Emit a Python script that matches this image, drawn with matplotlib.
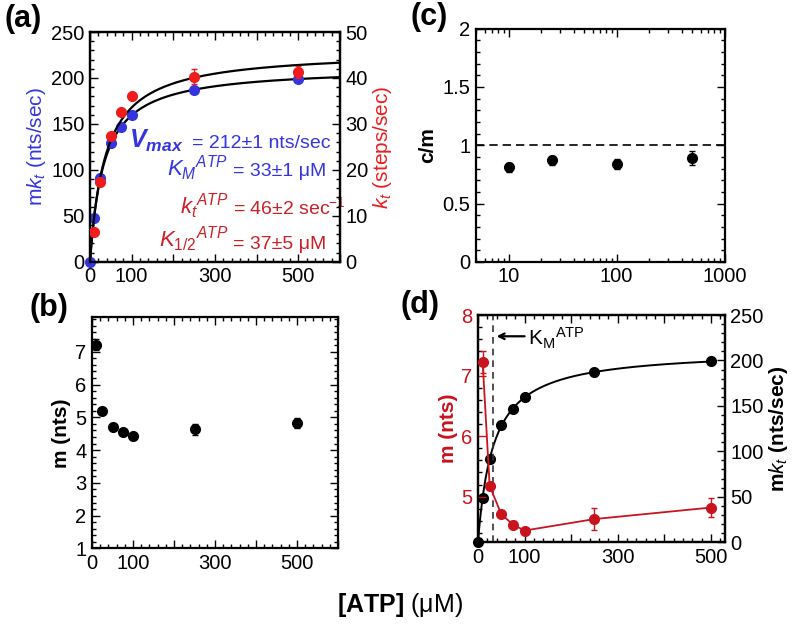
import numpy as np
import matplotlib.pyplot as plt
from matplotlib.ticker import MultipleLocator

plt.rcParams['font.family'] = ['Liberation Sans', 'DejaVu Sans']
plt.rcParams['mathtext.fontset'] = 'custom'
plt.rcParams['mathtext.rm'] = 'Liberation Sans'
plt.rcParams['mathtext.it'] = 'Liberation Sans:italic'
plt.rcParams['mathtext.bf'] = 'Liberation Sans:bold'
plt.rcParams['mathtext.sf'] = 'Liberation Sans:bold:italic'

# data
atp = [0, 10, 25, 50, 75, 100, 250, 500]
mkt = [0, 48, 91, 129, 147, 160, 187, 199]
atp_kt = [10, 25, 50, 75, 100, 250, 500]
kt = [6.5, 17.4, 27.4, 32.5, 36.0, 40.3, 41.3]
kt_err = [0, 0, 0, 0, 0, 1.6, 1.2]
atp_m = [10, 25, 50, 75, 100, 250, 500]
m = [7.22, 5.18, 4.71, 4.54, 4.44, 4.63, 4.82]
m_err = [0.18, 0.05, 0.05, 0.05, 0.05, 0.18, 0.15]
atp_c = [10, 25, 100, 500]
cm = [0.81, 0.87, 0.84, 0.89]
cm_err = [0.04, 0.04, 0.04, 0.06]

# fit parameters shown in panel (a)
vmax, km = 212, 33
ktmax, khalf = 46, 37

BLUE = '#3535e0'
RED = '#ee1c1c'
DRED = '#c8141e'
TRED = '#cc1f26'
TS = 14.5

fig = plt.figure(figsize=(8, 6.34), dpi=100)


def style(ax, right=True, top=True):
    for s in ax.spines.values():
        s.set_linewidth(1.6)
    ax.tick_params(which='both', direction='in', top=top, right=right,
                   labelsize=TS, width=1)
    ax.tick_params(which='major', length=6, pad=4)
    ax.tick_params(which='minor', length=3)


def xlin(ax, xmax):
    ax.set_xlim(0, xmax)
    ax.xaxis.set_minor_locator(MultipleLocator(20))
    ax.set_xticks(np.arange(0, xmax + 1, 100))
    ax.set_xticklabels(['0' if v == 0 else (str(int(v)) if v % 200 == 100 else '')
                        for v in np.arange(0, xmax + 1, 100)])


# ---------------- (a)
ax = fig.add_axes([0.1125, 0.587, 0.3125, 0.3625])
ax2 = ax.twinx()
xs = np.linspace(0, 600, 400)
ax.plot(xs, vmax * xs / (km + xs), color='black', lw=1.6, zorder=2)
ax2.plot(xs, ktmax * xs / (khalf + xs), color='black', lw=1.6, zorder=2)
ax.plot(atp, mkt, 'o', color=BLUE, ms=7, zorder=3, clip_on=False)
ax2.errorbar(atp_kt, kt, yerr=kt_err, fmt='o', color=RED, ms=7, capsize=2,
             elinewidth=1, zorder=3)
ax.set_ylim(0, 250)
ax2.set_ylim(0, 50)
xlin(ax, 600)
ax.yaxis.set_major_locator(MultipleLocator(50))
ax.yaxis.set_minor_locator(MultipleLocator(10))
ax2.yaxis.set_major_locator(MultipleLocator(10))
ax2.yaxis.set_minor_locator(MultipleLocator(2))
style(ax, right=False)
style(ax2, right=True)
ax2.tick_params(which='both', left=False, top=False)
ax.set_ylabel(r'm$\mathit{k_t}$ (nts/sec)', color=BLUE, fontsize=15, labelpad=2)
ax2.set_ylabel(r'$\mathit{k_t}$ (steps/sec)', color=RED, fontsize=15, labelpad=2)

eqx = 0.572
ax.text(0.375, 0.496, r'$\mathsf{V_{max}}$', transform=ax.transAxes,
        color=BLUE, fontsize=18, va='baseline', ha='right')
ax.text(0.408, 0.496, '= 212±1 nts/sec', transform=ax.transAxes,
        color=BLUE, fontsize=14, va='baseline', ha='left')
ax.text(eqx - 0.02, 0.374, r'$\mathit{K_M}^{\mathit{ATP}}$', transform=ax.transAxes,
        color=BLUE, fontsize=16, va='baseline', ha='right')
ax.text(eqx, 0.374, '= 33±1 μM', transform=ax.transAxes,
        color=BLUE, fontsize=14, va='baseline', ha='left')
ax.text(eqx - 0.02, 0.209, r'$\mathit{k_t}^{\mathit{ATP}}$', transform=ax.transAxes,
        color=TRED, fontsize=16, va='baseline', ha='right')
ax.text(eqx, 0.209, r'= 46±2 sec$^{\mathregular{-1}}$', transform=ax.transAxes,
        color=TRED, fontsize=14, va='baseline', ha='left')
ax.text(eqx - 0.02, 0.064, r'$\mathit{K_{1/2}}^{\mathit{ATP}}$', transform=ax.transAxes,
        color=TRED, fontsize=16, va='baseline', ha='right')
ax.text(eqx, 0.057, '= 37±5 μM', transform=ax.transAxes,
        color=TRED, fontsize=14, va='baseline', ha='left')
fig.text(0.006, 0.958, '(a)', fontsize=22, fontweight='bold', va='baseline')

# ---------------- (c)
ax = fig.add_axes([0.595, 0.587, 0.311, 0.368])
ax.axhline(1, color='black', lw=1.2, ls=(0, (5, 3)))
ax.errorbar(atp_c, cm, yerr=cm_err, fmt='o', color='black', ms=7, capsize=2,
            elinewidth=1)
ax.set_xscale('log')
ax.set_xlim(5, 1000)
ax.set_ylim(0, 2)
ax.set_xticks([10, 100, 1000])
ax.set_xticklabels(['10', '100', '1000'])
ax.set_yticks([0, 0.5, 1, 1.5, 2])
ax.set_yticklabels(['0', '0.5', '1', '1.5', '2'])
ax.yaxis.set_minor_locator(MultipleLocator(0.1))
style(ax)
ax.set_ylabel('c/m', fontsize=15, fontweight='bold', labelpad=4)
fig.text(0.513, 0.96, '(c)', fontsize=22, fontweight='bold', va='baseline')

# ---------------- (b)
ax = fig.add_axes([0.115, 0.135, 0.3075, 0.3645])
ax.errorbar(atp_m, m, yerr=m_err, fmt='o', color='black', ms=7, capsize=2,
            elinewidth=1)
xlin(ax, 600)
ax.set_ylim(1, 8.05)
ax.set_yticks([1, 2, 3, 4, 5, 6, 7])
ax.yaxis.set_minor_locator(MultipleLocator(0.2))
style(ax)
ax.set_ylabel('m (nts)', fontsize=15, fontweight='bold', labelpad=3)
fig.text(0.037, 0.502, '(b)', fontsize=22, fontweight='bold', va='baseline')

# ---------------- (d)
ax = fig.add_axes([0.5975, 0.145, 0.3085, 0.358])
ax2 = ax.twinx()
xs = np.linspace(0, 500, 400)
ax2.plot(xs, vmax * xs / (km + xs), color='black', lw=1.4, zorder=2)
ax2.plot(atp, mkt, 'o', color='black', ms=7, zorder=3, clip_on=False)
ax.errorbar(atp_m, m, yerr=m_err, fmt='-o', color=DRED, ms=7, capsize=2,
            elinewidth=1, lw=1.3, zorder=4)
ax.set_zorder(ax2.get_zorder() + 1)
ax.patch.set_visible(False)
ax.axvline(km, color='#333333', lw=1.2, ls=(0, (4, 3)))
ax.set_xlim(0, 530)
ax.set_xticks([0, 100, 200, 300, 400, 500])
ax.set_xticklabels(['0', '100', '', '300', '', '500'])
ax.xaxis.set_minor_locator(MultipleLocator(20))
ax.set_ylim(4.25, 8)
ax.set_yticks([5, 6, 7, 8])
ax.yaxis.set_minor_locator(MultipleLocator(0.2))
ax2.set_ylim(0, 250)
ax2.yaxis.set_major_locator(MultipleLocator(50))
ax2.yaxis.set_minor_locator(MultipleLocator(10))
style(ax, right=False)
style(ax2)
ax2.tick_params(which='both', left=False, top=False)
ax.tick_params(axis='y', colors=DRED)
for s in ['left', 'right', 'top', 'bottom']:
    ax.spines[s].set_color('black')
ax.set_ylabel('m (nts)', color=DRED, fontsize=15, fontweight='bold', labelpad=2)
ax2.set_ylabel(r'm$\mathbf{\mathit{k_t}}$ (nts/sec)', fontsize=15,
               fontweight='bold', labelpad=2)
ax.annotate('', xy=(km + 1, 7.65), xytext=(106, 7.65),
            arrowprops=dict(arrowstyle='->', color='black', lw=1.6))
ax.text(108, 7.62, r'K$_\mathregular{M}$$^\mathregular{ATP}$', fontsize=15,
        va='center')
fig.text(0.5, 0.506, '(d)', fontsize=22, fontweight='bold', va='baseline')

# common x label
fig.text(0.5, 0.035, r'$\mathbf{[ATP]}$ (μM)', fontsize=18, ha='center')

fig.savefig('out.png', dpi=100)
